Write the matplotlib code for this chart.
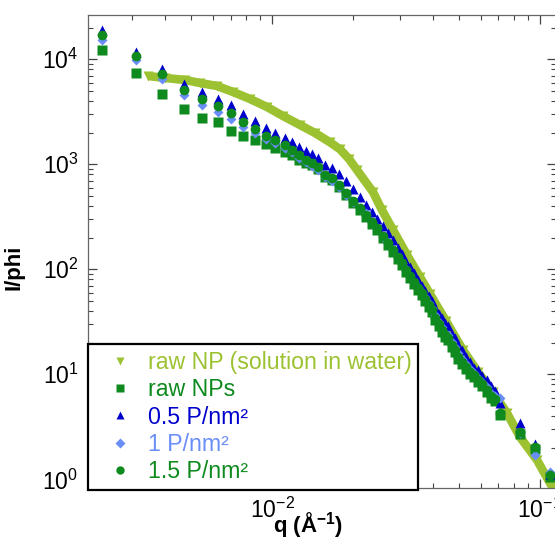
import matplotlib
matplotlib.use("Agg")
import matplotlib.pyplot as plt
from matplotlib.lines import Line2D
from matplotlib.ticker import LogLocator, NullFormatter

plt.rcParams['font.family'] = ['Liberation Sans', 'DejaVu Sans']
plt.rcParams['mathtext.fontset'] = 'custom'
plt.rcParams['mathtext.rm'] = 'Liberation Sans'
plt.rcParams['mathtext.bf'] = 'Liberation Sans:bold'
plt.rcParams['mathtext.default'] = 'regular'
plt.rcParams['axes.unicode_minus'] = False

# ---- data ----
q_np = [0.003446, 0.003989, 0.004735, 0.005385, 0.006233, 0.007154, 0.008278, 0.009579,
        0.01099, 0.01272, 0.01447, 0.01646, 0.01794, 0.01940, 0.02076, 0.02381, 0.02572, 0.02829,
        0.03190, 0.03566, 0.03888, 0.04460, 0.05161, 0.05870, 0.06677, 0.07530, 0.08420,
        0.09746, 0.1090, 0.1187]
I_np = [6934, 6636, 6353, 5948, 5568, 4882, 4187, 3513, 2884, 2367, 1987, 1620, 1390, 1120, 882,
        545, 367, 236.8, 136.8, 84.5, 58.2, 32.2, 17.03, 10.5, 6.78, 4.28, 2.53, 1.53, 0.922, 0.635]

q_pts = [0.002321, 0.003108, 0.003887, 0.004695, 0.005482, 0.006287, 0.007031, 0.007795, 0.008642, 0.009497,
         0.01026, 0.01118, 0.01187, 0.01261, 0.01339, 0.01410, 0.01484, 0.01577, 0.01675, 0.01778,
         0.01889, 0.02005, 0.02130, 0.02243, 0.02361, 0.02465, 0.02596, 0.02709, 0.02828, 0.02953,
         0.03056, 0.03162, 0.03273, 0.03388, 0.03506, 0.03628, 0.03723, 0.03853, 0.03954, 0.04057,
         0.04199, 0.04309, 0.04421, 0.04537, 0.04695, 0.04818, 0.04943, 0.05117, 0.05296, 0.05482,
         0.05673, 0.05871, 0.06076, 0.06343, 0.06566, 0.06795, 0.07092, 0.08420, 0.09579, 0.1090]

I_raw = [12260, 7405, 4671, 3363, 2761, 2529, 2076, 1860, 1703, 1561,
         1430, 1310, 1226, 1099, 1029, 985, 905, 760, 710, 612,
         512, 430, 368, 316, 270, 238, 199, 171, 147, 126,
         110, 94.5, 83, 72.7, 63.7, 57.1, 50, 43.9, 39.3, 33,
         28.9, 25.3, 22.8, 21.3, 18.2, 16.3, 14.0, 12.6, 11.3, 10.1,
         9.46, 8.48, 7.76, 6.81, 5.96, 5.59, 4.11, 2.71, 1.95, 1.06]

I_05 = [19000, 11740, 8080, 5820, 4880, 4190, 3670, 3015, 2585, 2217,
        1985, 1780, 1630, 1461, 1339, 1253, 1148, 985, 922, 809,
        693, 582, 488, 409, 351, 301, 258, 222, 190, 159,
        140, 117, 105, 92.2, 79.2, 69.4, 62.1, 55.7, 49.9, 42.8,
        37.5, 34.3, 30.8, 28.9, 24.2, 22.2, 19.0, 17.0, 14.6, 13.1,
        11.5, 11.0, 9.63, 8.83, 7.73, 6.94, 5.33, 3.43, 2.15, 1.12]

I_1 = [15260, 9844, 6491, 4571, 3670, 3147, 2700, 2266, 1986, 1742,
       1595, 1430, 1309, 1148, 1052, 963, 883, 757, 694, 608,
       510, 438, 383.6, 344, 282, 247, 203, 178, 153, 131,
       115, 101, 86.4, 75.7, 68, 61, 54.4, 47.8, 42.8, 36.7,
       31.5, 28.2, 24.8, 23.7, 20.3, 18.2, 16.0, 14.0, 12.5, 11.2,
       10.3, 9.2, 8.45, 7.57, 6.63, 6.22, 5.9, 2.75, 1.70, 1.17]

I_15 = [17030, 10750, 7244, 5101, 4187, 3591, 3081, 2529, 2169, 1860,
        1703, 1527, 1368, 1226, 1099, 1029, 942.6, 791.1, 740.7, 635.3,
        533.0, 447.2, 383.6, 328.9, 282.2, 247.4, 207.6, 178.0, 152.7, 130.9,
        114.8, 98.5, 86.4, 75.7, 66.4, 59.5, 52.1, 45.7, 40.96, 34.4,
        30.1, 26.4, 23.7, 22.2, 19.0, 17.03, 14.61, 13.10, 11.73, 10.52,
        9.85, 8.83, 8.08, 7.09, 6.21, 5.82, 4.28, 2.82, 2.03, 1.10]

labels = ["raw NP (solution in water)", "raw NPs", "0.5 P/nm²", "1 P/nm²", "1.5 P/nm²"]
c_np = '#9CC232'
c_green = '#0E8A1E'
c_blue = '#0000CD'
c_lblue = '#6A8EF8'
colors = [c_np, c_green, c_blue, c_lblue, c_green]
markers = ['v', 's', '^', 'D', 'o']

fig = plt.figure(figsize=(5.55, 5.38), dpi=100)
ax = fig.add_axes([0.1586, 0.0929, 0.8432, 0.8792])

ax.plot(q_np, I_np, '-', color=c_np, lw=6.2, zorder=2, solid_capstyle='butt',
        solid_joinstyle='round')
ax.plot(q_np, I_np, 'v', color=c_np, ms=7, mec='none', zorder=2)
ax.plot(q_pts, I_raw, 's', color=c_green, ms=7, mec='none', zorder=3)
ax.plot(q_pts, I_05, '^', color=c_blue, ms=7.5, mec='none', zorder=4)
ax.plot(q_pts, I_1, 'D', color=c_lblue, ms=5.5, mec='none', zorder=5)
ax.plot(q_pts, I_15, 'o', color=c_green, ms=7, mec='none', zorder=6)

ax.set_xscale('log')
ax.set_yscale('log')
ax.set_xlim(0.002057, 0.1148)
ax.set_ylim(0.826, 26400)

ax.xaxis.set_minor_locator(LogLocator(base=10, subs=range(2, 10), numticks=20))
ax.yaxis.set_minor_locator(LogLocator(base=10, subs=range(2, 10), numticks=20))
ax.xaxis.set_minor_formatter(NullFormatter())
ax.yaxis.set_minor_formatter(NullFormatter())

tc = '#444444'
ax.tick_params(which='both', direction='in', top=True, right=True, colors=tc,
               labelcolor='black', labelsize=16.5)
ax.tick_params(which='major', length=6.5, width=0.9, pad=7)
ax.tick_params(which='minor', length=3.6, width=0.8)
for s in ax.spines.values():
    s.set_color('#666666')
    s.set_linewidth(0.9)

ax.set_xlabel('q (Å$^{-1}$)', fontsize=16, fontweight='bold')
ax.xaxis.set_label_coords(0.47, -0.046)
ax.set_ylabel('I/phi', fontsize=16, fontweight='bold')
ax.yaxis.set_label_coords(-0.136, 0.467)

handles = [Line2D([], [], ls='none', marker=m, color=c, mec='none',
                  ms=(6 if m != 'D' else 5)) for m, c in zip(markers, colors)]
leg = ax.legend(handles, labels, loc='lower left', bbox_to_anchor=(0, -0.004),
                borderaxespad=0, fontsize=16.7, frameon=True, fancybox=False,
                framealpha=1, edgecolor='black', borderpad=0.3,
                handlelength=2.17, handletextpad=0.1, labelspacing=0.18)
leg.get_frame().set_linewidth(1.6)
leg.set_zorder(10)
for t, c in zip(leg.get_texts(), colors):
    t.set_color(c)

fig.savefig('out.png', dpi=100)
